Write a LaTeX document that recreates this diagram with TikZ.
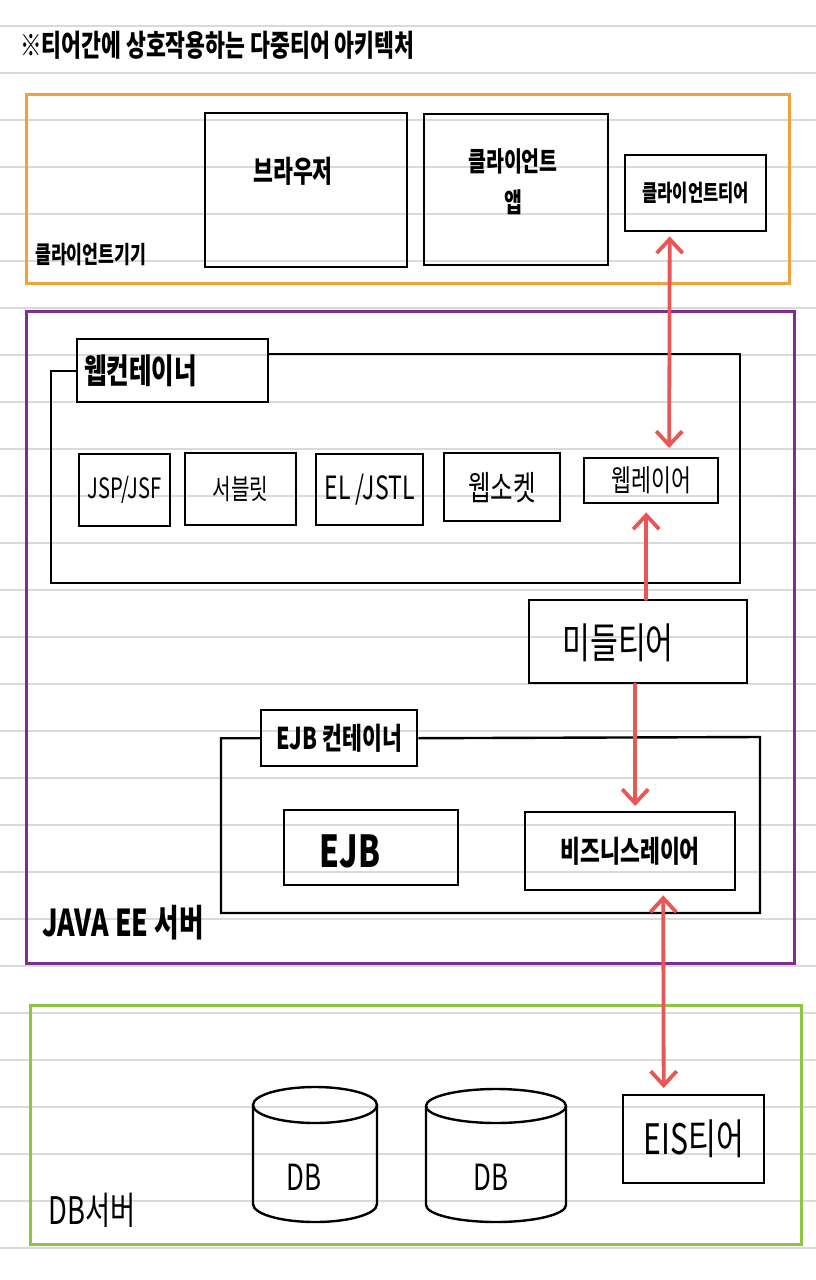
\documentclass[tikz,border=0pt]{standalone}
\usepackage{fontspec}
\setmainfont{Noto Sans CJK KR}[FakeStretch=0.72]
\usepackage{tikz}
\usetikzlibrary{arrows.meta,calc}

\definecolor{devorange}{HTML}{EFA23E}
\definecolor{srvpurple}{HTML}{7E2E8E}
\definecolor{dbgreen}{HTML}{8DC641}
\definecolor{linkred}{HTML}{E85656}
\definecolor{ruled}{HTML}{DADADA}
\newcommand{\fsz}[1]{\fontsize{#1}{#1}\selectfont}

\begin{document}
\begin{tikzpicture}[x=1pt,y=-1pt,>={Straight Barb[length=14pt,width=26pt]}]
  \tikzset{tier/.style = {draw,line width=2.4pt,inner sep=0pt,anchor=north west,align=center}}
  \tikzset{frame/.style = {draw,line width=2.8pt,inner sep=0pt,anchor=north west}}
  \tikzset{link/.style = {draw=linkred,line width=3.8pt,line cap=round}}
  \tikzset{txt/.style = {inner sep=0pt}}
  \useasboundingbox[fill=white] (0,0) rectangle (816,1280);
  \foreach \k in {0,...,26}
    \draw[ruled,line width=1.6pt] (0,26+47*\k) -- (816,26+47*\k);

  \node[txt,anchor=west,font=\fsz{30}\bfseries] (title) at (20,45) {※티어간에 상호작용하는 다중티어 아키텍처};

  % client device
  \node[frame,draw=devorange,minimum width=763pt,minimum height=189pt] (dev) at (25,93) {};
  \node[tier,minimum width=202pt,minimum height=154pt] (brw) at (204,112) {};
  \node[txt,font=\fsz{30}\bfseries] (brwtxt) at (293,171) {브라우저};
  \node[tier,minimum width=184pt,minimum height=151pt] (app) at (423,113) {};
  \node[txt,align=center,font=\fontsize{27}{41}\selectfont\bfseries] (apptxt) at (513,182) {클라이언트\\앱};
  \node[tier,minimum width=141pt,minimum height=76pt,font=\fsz{23}\bfseries] (ctr) at (624,154) {클라이언트티어};
  \node[txt,anchor=west,font=\fsz{24}\bfseries] (devtxt) at (35,255) {클라이언트기기};

  % java ee server
  \node[frame,draw=srvpurple,minimum width=768pt,minimum height=652pt] (srv) at (25,310) {};
  \node[tier,minimum width=191pt,minimum height=63pt,text width=177pt,align=left,font=\fsz{34}\bfseries] (wct) at (76,338) {웹컨테이너};
  \draw[line width=2.4pt] (wct.west) -| (51,583) -| (740,354) -- (267,354);
  \node[tier,minimum width=91pt,minimum height=72pt,font=\fsz{28}] (jsp) at (78,453) {JSP/JSF};
  \node[tier,minimum width=111pt,minimum height=72pt,font=\fsz{28}] (svl) at (184,452) {서블릿};
  \node[tier,minimum width=107pt,minimum height=71pt,font=\fsz{32}] (el) at (315,453) {EL /JSTL};
  \node[tier,minimum width=116pt,minimum height=68pt,font=\fsz{34}] (ws) at (443,452) {웹소켓};
  \node[tier,minimum width=134pt,minimum height=45pt,font=\fsz{30}] (wl) at (583,457) {웹레이어};
  \node[tier,minimum width=218pt,minimum height=83pt] (mid) at (528,599) {};
  \node[txt,font=\fsz{42}] (midtxt) at (618,643) {미들티어};

  \node[tier,minimum width=156pt,minimum height=56pt,font=\fsz{30}\bfseries] (ect) at (260,709) {EJB 컨테이너};
  \draw[line width=2.4pt] (ect.west) -| (221,913) -| (760,737) -- (ect.east);
  \node[tier,minimum width=174pt,minimum height=75pt] (ejb) at (283,809) {};
  \node[txt,font=\fsz{44}\bfseries] (ejbtxt) at (350,851) {EJB};
  \node[tier,minimum width=210pt,minimum height=78pt,font=\fsz{30}\bfseries] (biz) at (524,811) {비즈니스레이어};
  \node[txt,anchor=west,font=\fsz{37}\bfseries] (srvtxt) at (42,923) {JAVA EE 서버};

  % db server
  \node[frame,draw=dbgreen,minimum width=771pt,minimum height=239pt] (dbs) at (29,1004) {};
  \draw[line width=2.4pt] (253,1105) -- (253,1204) arc[start angle=180,end angle=360,x radius=62pt,y radius=18pt] -- (377,1105);
  \draw[line width=2.4pt] (315,1105) ellipse[x radius=62pt,y radius=18pt];
  \draw[line width=2.4pt] (426,1106) -- (426,1205) arc[start angle=180,end angle=360,x radius=70pt,y radius=17pt] -- (566,1106);
  \draw[line width=2.4pt] (496,1106) ellipse[x radius=70pt,y radius=17pt];
  \node[txt,font=\fsz{36}] (db1) at (304,1177) {DB};
  \node[txt,font=\fsz{36}] (db2) at (491,1177) {DB};
  \node[tier,minimum width=141pt,minimum height=88pt,font=\fsz{42}] (eis) at (622,1094) {EIS티어};
  \node[txt,anchor=west,font=\fsz{38}] (dbstxt) at (48,1210) {DB서버};

  \draw[link,<->] ($(ctr.south)+(-26,4)$) -- ($(wl.north)+(18,-9)$);
  \draw[link,->] ($(mid.north)+(8,0)$) -- ($(wl.south)+(-5,8)$);
  \draw[link,->] ($(mid.south)+(-3,0)$) -- ($(biz.north)+(5,-5)$);
  \draw[link,<->] ($(biz.south)+(33,4)$) -- ($(eis.north)+(-30,-6)$);
\end{tikzpicture}
\end{document}
